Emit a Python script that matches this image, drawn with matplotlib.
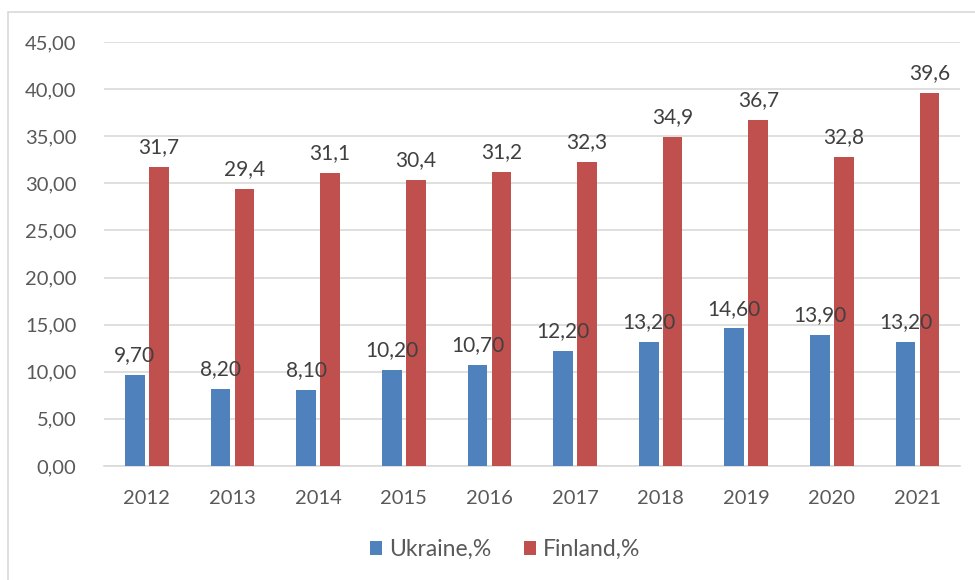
import numpy as np
import matplotlib.pyplot as plt
from matplotlib.patches import Rectangle

years = ['2012', '2013', '2014', '2015', '2016', '2017', '2018', '2019', '2020', '2021']
ukraine = [9.70, 8.20, 8.10, 10.20, 10.70, 12.20, 13.20, 14.60, 13.90, 13.20]
finland = [31.7, 29.4, 31.1, 30.4, 31.2, 32.3, 34.9, 36.7, 32.8, 39.6]

ukraine_labels = ['9,70', '8,20', '8,10', '10,20', '10,70', '12,20', '13,20', '14,60', '13,90', '13,20']
finland_labels = ['31,7', '29,4', '31,1', '30,4', '31,2', '32,3', '34,9', '36,7', '32,8', '39,6']

plt.rcParams['font.family'] = ['Lato', 'DejaVu Sans']
TXT = '#595959'

fig = plt.figure(figsize=(9.75, 5.8), dpi=100)
ax = fig.add_axes([0.1067, 0.1966, 0.8783, 0.731])

x = np.arange(len(years))
w = 0.23
off = 0.14
b1 = ax.bar(x - off, ukraine, w, color='#4f81bd', zorder=3)
b2 = ax.bar(x + off, finland, w, color='#c0504d', zorder=3)

# подписи значений над столбцами
for bars, labels in [(b1, ukraine_labels), (b2, finland_labels)]:
    for rect, lab in zip(bars, labels):
        ax.annotate(lab, (rect.get_x() + rect.get_width() / 2, rect.get_height()),
                    xytext=(0, 7), textcoords='offset points', ha='center', va='bottom',
                    fontsize=15, color='#404040')

ax.set_xlim(-0.5, len(years) - 0.5)
ax.set_ylim(0, 45)
ax.set_yticks(np.arange(0, 46, 5))
ax.set_yticklabels([f'{v:.2f}'.replace('.', ',') for v in np.arange(0, 46, 5)])
ax.set_xticks(x)
ax.set_xticklabels(years)
ax.tick_params(axis='both', length=0, labelsize=14.5, labelcolor=TXT)
ax.tick_params(axis='y', pad=20)
ax.tick_params(axis='x', pad=17)
ax.grid(axis='y', color='#d9d9d9', linewidth=1.2, zorder=0)
for s in ['top', 'right', 'left']:
    ax.spines[s].set_visible(False)
ax.spines['bottom'].set_color('#d9d9d9')
ax.spines['bottom'].set_linewidth(1.2)

leg = fig.legend([b1, b2], ['Ukraine,%', 'Finland,%'], loc='center', bbox_to_anchor=(0.518, 0.052),
                 ncol=2, frameon=False, fontsize=16.5, handlelength=0.55, handleheight=0.55,
                 columnspacing=1.4, handletextpad=0.3)
for t in leg.get_texts():
    t.set_color(TXT)

fig.patches.append(Rectangle((8 / 975, -0.01), 1.0, 1 - 12 / 580 + 0.01, transform=fig.transFigure,
                             fill=False, edgecolor='#d9d9d9', linewidth=1.2))

fig.savefig('out.png', dpi=100)
